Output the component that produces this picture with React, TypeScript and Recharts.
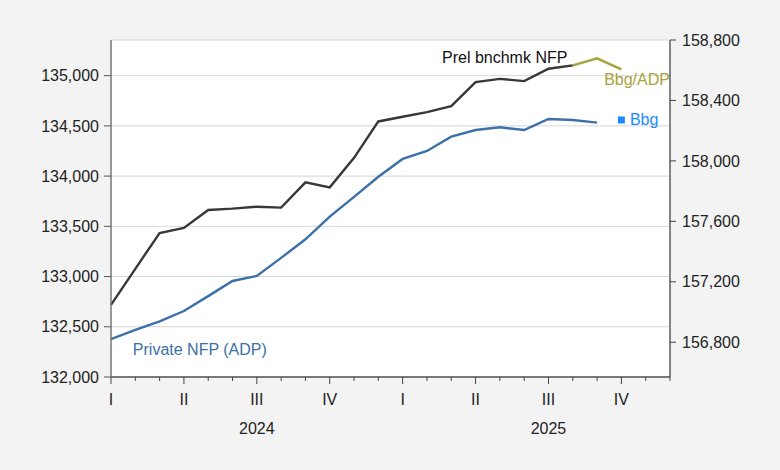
import React from 'react';
import { LineChart, Line, XAxis, YAxis, CartesianGrid, ReferenceDot } from 'recharts';

const months: number[] = [0, 1, 2, 3, 4, 5, 6, 7, 8, 9, 10, 11, 12, 13, 14, 15, 16, 17, 18, 19, 20, 21, 22, 23];
const quarterLabels: Record<number, string> = { 0: 'I', 3: 'II', 6: 'III', 9: 'IV', 12: 'I', 15: 'II', 18: 'III', 21: 'IV' };
const yearLabels: Record<number, string> = { 6: '2024', 18: '2025' };

const privateAdp: (number | null)[] = [
  132378, 132468, 132554, 132657, 132805, 132956, 133006, 133186, 133371, 133596,
  133793, 133994, 134171, 134250, 134393, 134459, 134486, 134459, 134569, 134559, 134532,
];
const prelBenchmarkNfp: (number | null)[] = [
  157047, 157286, 157523, 157556, 157675, 157684, 157697, 157691, 157858, 157825,
  158020, 158261, 158292, 158323, 158362, 158521, 158543, 158528, 158610, 158632,
];
const bbgAdpStart = 19;
const bbgAdp: number[] = [158632, 158679, 158606];
const bbgIndex = 21;
const bbgValue = 134559;

const leftTicks = [132000, 132500, 133000, 133500, 134000, 134500, 135000];
const rightTicks = [156800, 157200, 157600, 158000, 158400, 158800];

const data = months.map((m) => ({
  m,
  adp: m < privateAdp.length ? privateAdp[m] : null,
  nfp: m < prelBenchmarkNfp.length ? prelBenchmarkNfp[m] : null,
  bbgAdp: m >= bbgAdpStart && m < bbgAdpStart + bbgAdp.length ? bbgAdp[m - bbgAdpStart] : null,
  bbg: m === bbgIndex ? bbgValue : null,
}));

const FONT = '"Liberation Sans", Arial, sans-serif';
const fmt = (v: number) => v.toLocaleString('en-US');

const XTick = (props: any) => {
  const { x, y, payload } = props;
  const v = payload.value as number;
  const major = quarterLabels[v] !== undefined;
  return (
    <g>
      <line x1={x} x2={x} y1={y} y2={y + (major ? 7 : 4)} stroke="#444" strokeWidth={1} />
      {major && (
        <text x={x} y={y + 22} textAnchor="middle" dominantBaseline="central" fontSize={16} fill="#222" fontFamily={FONT}>
          {quarterLabels[v]}
        </text>
      )}
      {yearLabels[v] && (
        <text x={x} y={y + 51} textAnchor="middle" dominantBaseline="central" fontSize={16} fill="#222" fontFamily={FONT}>
          {yearLabels[v]}
        </text>
      )}
    </g>
  );
};

const TextLabel = (color: string, text: string) => (props: any) => {
  const vb = props.viewBox || {};
  const cx = vb.cx ?? vb.x;
  const cy = vb.cy ?? vb.y;
  return (
    <text x={cx} y={cy} textAnchor="start" dominantBaseline="central" fontSize={16} fill={color} fontFamily={FONT}>
      {text}
    </text>
  );
};

const SquareDot = (props: any) => {
  const { cx, cy } = props;
  if (cx == null || cy == null) return null;
  return <rect x={cx - 3.5} y={cy - 3.5} width={7} height={7} fill="#1a8cff" />;
};

export default function App() {
  return (
    <div style={{ position: 'absolute', left: 0, top: 0, width: 780, height: 470, background: '#f3f3f3' }}>
      <LineChart width={780} height={470} data={data} margin={{ top: 40, right: 30, bottom: 63, left: 51 }}>
        <CartesianGrid yAxisId="left" vertical={false} stroke="#d6d6d6" fill="#ffffff" />
        <XAxis
          dataKey="m"
          type="number"
          domain={[0, 23]}
          ticks={months}
          interval={0}
          tick={<XTick />}
          tickLine={false}
          tickSize={0}
          tickMargin={0}
          height={30}
          axisLine={{ stroke: '#555', strokeWidth: 1.3 }}
        />
        <XAxis xAxisId="top" orientation="top" dataKey="m" type="number" domain={[0, 23]} tick={false} tickLine={false} height={0} axisLine={{ stroke: '#444', strokeWidth: 1.3 }} />
        <YAxis
          yAxisId="left"
          domain={[132000, 135355]}
          ticks={leftTicks}
          interval={0}
          width={60}
          tickFormatter={fmt}
          tickSize={7}
          tickMargin={5}
          tick={{ fontSize: 16, fill: '#222', fontFamily: FONT }}
          tickLine={{ stroke: '#555' }}
          axisLine={{ stroke: '#777', strokeWidth: 1.5 }}
          allowDataOverflow
        />
        <YAxis
          yAxisId="right"
          orientation="right"
          domain={[156570, 158800]}
          ticks={rightTicks}
          interval={0}
          width={80}
          tickFormatter={fmt}
          tickSize={6}
          tickMargin={6}
          tick={{ fontSize: 16, fill: '#222', fontFamily: FONT }}
          tickLine={{ stroke: '#444' }}
          axisLine={{ stroke: '#444', strokeWidth: 1.3 }}
          allowDataOverflow
        />
        <Line yAxisId="right" dataKey="nfp" stroke="#383838" strokeWidth={2.4} dot={false} isAnimationActive={false} connectNulls={false} />
        <Line yAxisId="right" dataKey="bbgAdp" stroke="#a8a23c" strokeWidth={2.4} dot={false} isAnimationActive={false} connectNulls={false} />
        <Line yAxisId="left" dataKey="adp" stroke="#3c70a8" strokeWidth={2.4} dot={false} isAnimationActive={false} connectNulls={false} />
        <Line yAxisId="left" dataKey="bbg" stroke="none" dot={<SquareDot />} activeDot={false} isAnimationActive={false} />
        <ReferenceDot yAxisId="right" x={13.62} y={158685} r={0} label={TextLabel('#111111', 'Prel bnchmk NFP')} />
        <ReferenceDot yAxisId="right" x={20.29} y={158539} r={0} label={TextLabel('#a8a23c', 'Bbg/ADP')} />
        <ReferenceDot yAxisId="left" x={21.35} y={bbgValue} r={0} label={TextLabel('#1a8cff', 'Bbg')} />
        <ReferenceDot yAxisId="left" x={0.9} y={132269} r={0} label={TextLabel('#3c70a8', 'Private NFP (ADP)')} />
      </LineChart>
    </div>
  );
}
